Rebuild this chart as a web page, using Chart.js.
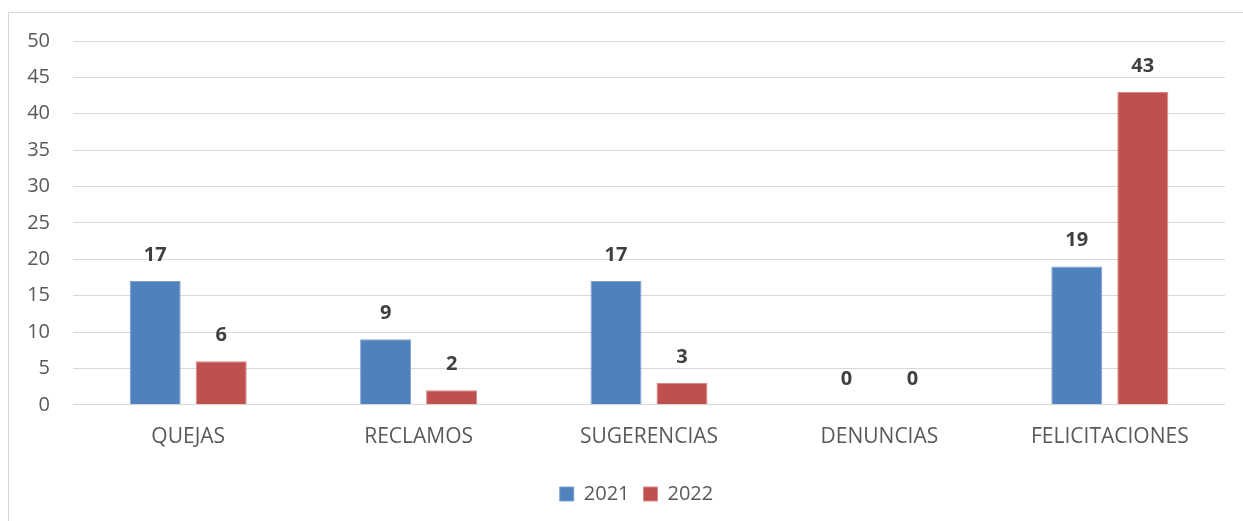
<!DOCTYPE html>
<html lang="es">
<head>
  <meta charset="UTF-8">
  <title>Quejas y felicitaciones 2021-2022</title>
  <script src="https://cdn.jsdelivr.net/npm/chart.js"></script>
  <style>
    body { margin: 0; background: #fff; }
    #frame { position: absolute; left: 8px; top: 12px; width: 1240px; height: 520px; border: 1px solid #d9d9d9; }
    #wrap { position: absolute; left: 0; top: 0; width: 1243px; height: 521px; }
  </style>
</head>
<body>
  <div id="frame"></div>
  <div id="wrap"><canvas id="chart"></canvas></div>
  <script>
    const categories = ['QUEJAS', 'RECLAMOS', 'SUGERENCIAS', 'DENUNCIAS', 'FELICITACIONES'];
    const values2021 = [17, 9, 17, 0, 19];
    const values2022 = [6, 2, 3, 0, 43];
    const yTicks = [0, 5, 10, 15, 20, 25, 30, 35, 40, 45, 50];

    const font = "'Open Sans', 'Noto Sans', sans-serif";

    // draws the value above each bar
    const barLabels = {
      id: 'barLabels',
      afterDatasetsDraw(chart) {
        const ctx = chart.ctx;
        ctx.save();
        ctx.font = 'bold 20px ' + font;
        ctx.fillStyle = '#404040';
        ctx.textAlign = 'center';
        ctx.textBaseline = 'middle';
        chart.data.datasets.forEach((ds, i) => {
          chart.getDatasetMeta(i).data.forEach((bar, j) => {
            ctx.fillText(ds.data[j], bar.x, bar.y - 26);
          });
        });
        ctx.restore();
      }
    };

    // legend sits a bit right of centre in the original
    const legendShift = {
      id: 'legendShift',
      afterLayout(chart) {
        chart.legend.left += 48;
      }
    };

    new Chart(document.getElementById('chart'), {
      type: 'bar',
      data: {
        labels: categories,
        datasets: [
          { label: '2021', data: values2021, backgroundColor: '#4f81bd', borderColor: '#7fa1cf', borderWidth: 1 },
          { label: '2022', data: values2022, backgroundColor: '#c0504d', borderColor: '#d98a88', borderWidth: 1 }
        ]
      },
      options: {
        responsive: true,
        maintainAspectRatio: false,
        animation: false,
        categoryPercentage: 0.573,
        barPercentage: 0.773,
        layout: { padding: { top: 41, right: 18, bottom: 7, left: 0 } },
        plugins: {
          legend: {
            position: 'bottom',
            labels: { boxWidth: 14, boxHeight: 14, padding: 14, color: '#595959', font: { size: 20, family: font } }
          },
          tooltip: { enabled: false }
        },
        scales: {
          x: {
            grid: { display: false, drawTicks: false },
            border: { display: false },
            ticks: { color: '#595959', padding: 20, font: { size: 21, family: font } }
          },
          y: {
            min: 0,
            max: 50,
            afterBuildTicks: (s) => { s.ticks = yTicks.map(v => ({ value: v })); },
            afterFit: (s) => { s.width = 73; },
            grid: { color: '#d9d9d9', drawTicks: false },
            border: { display: false },
            ticks: { color: '#595959', padding: 23, font: { size: 20, family: font } }
          }
        }
      },
      plugins: [barLabels, legendShift]
    });
  </script>
</body>
</html>
